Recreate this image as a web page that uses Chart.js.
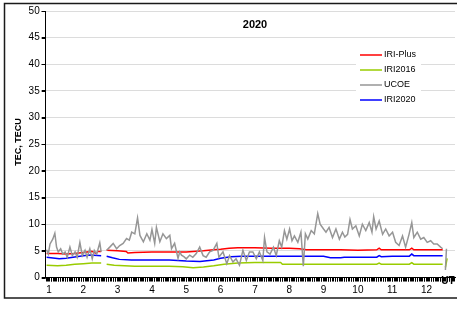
<!DOCTYPE html>
<html lang="en">
<head>
    <meta charset="UTF-8">
    <title>TEC 2020</title>
    <script src="https://cdn.jsdelivr.net/npm/chart.js"></script>
    <style>
        body {
            margin: 0;
            background: #ffffff;
        }
    </style>
</head>
<body>
    <canvas id="tecChart" width="457" height="309"></canvas>

    <script>
        // Axis labels
        const monthLabels = ['1', '2', '3', '4', '5', '6', '7', '8', '9', '10', '11', '12'];
        const tecTicks = [0, 5, 10, 15, 20, 25, 30, 35, 40, 45, 50];

        // IRI-Plus (red)
        const plusMonth = [0.93, 1.25, 1.5, 1.75, 2.0, 2.25, 2.38, 2.42, 2.52, 2.6,
            2.68, 3.0, 3.25, 3.3, 3.5, 4.0, 4.5, 5.0, 5.5, 5.8,
            6.0, 6.25, 6.5, 7.0, 7.5, 8.0, 8.3, 8.5, 9.0, 9.5,
            10.0, 10.55, 10.62, 10.68, 11.0, 11.5, 11.57, 11.63, 12.0, 12.47];
        const plusTec = [4.5, 4.5, 4.4, 4.5, 4.7, 4.9, 4.5, 4.9, 4.9, null,
            5.1, 5.0, 4.9, 4.6, 4.7, 4.8, 4.8, 4.8, 5.0, 5.2,
            5.3, 5.5, 5.6, 5.6, 5.5, 5.5, 5.4, 5.2, 5.2, 5.2,
            5.1, 5.2, 5.5, 5.2, 5.2, 5.2, 5.5, 5.2, 5.2, 5.2];

        // IRI2016 (green)
        const iri16Month = [0.93, 1.25, 1.5, 1.75, 2.0, 2.25, 2.52, 2.6,
            2.68, 2.9, 3.2, 3.5, 4.0, 4.5, 4.9, 5.2, 5.5, 5.8,
            6.1, 6.5, 7.0, 7.5, 7.75, 7.8, 8.5, 9.5, 10.55, 10.62,
            10.68, 11.5, 11.57, 11.63, 12.0, 12.47, 12.51, 12.55, 12.6];
        const iri16Tec = [2.3, 2.2, 2.3, 2.5, 2.6, 2.7, 2.7, null,
            2.5, 2.3, 2.2, 2.1, 2.1, 2.1, 2.0, 1.85, 1.95, 2.2,
            2.5, 2.7, 2.8, 2.8, 2.8, 2.5, 2.5, 2.5, 2.5, 2.7,
            2.5, 2.5, 2.8, 2.5, 2.5, 2.5, null, 1.9, 3.6];

        // UCOE (gray, measured)
        const ucoeMonth = [0.93, 0.98, 1.03, 1.11, 1.17, 1.22, 1.27, 1.34, 1.40, 1.47,
            1.53, 1.61, 1.68, 1.76, 1.82, 1.90, 1.97, 2.05, 2.11, 2.19,
            2.26, 2.32, 2.39, 2.48, 2.52, 2.6,
            2.68, 2.77, 2.87, 2.97, 3.06, 3.16, 3.26, 3.34, 3.41, 3.50,
            3.58, 3.65, 3.75, 3.85, 3.94, 4.00, 4.08, 4.13, 4.23, 4.32,
            4.42, 4.52, 4.57, 4.66, 4.76, 4.81, 4.86, 4.93, 5.00, 5.10,
            5.19, 5.29, 5.39, 5.49, 5.58, 5.68, 5.78, 5.89, 5.95, 6.07,
            6.18, 6.26, 6.36, 6.45, 6.55, 6.65, 6.75, 6.84, 6.94, 7.04,
            7.13, 7.23, 7.28, 7.35, 7.44, 7.54, 7.62, 7.71, 7.78, 7.86,
            7.93, 8.01, 8.08, 8.15, 8.25, 8.34, 8.41, 8.47, 8.54, 8.64,
            8.73, 8.83, 8.90, 9.00, 9.07, 9.16, 9.26, 9.36, 9.46, 9.55,
            9.62, 9.70, 9.77, 9.84, 9.94, 10.04, 10.13, 10.23, 10.33, 10.41,
            10.46, 10.53, 10.62, 10.72, 10.81, 10.91, 11.01, 11.10, 11.20, 11.30,
            11.39, 11.49, 11.57, 11.63, 11.73, 11.83, 11.92, 12.02, 12.12, 12.21,
            12.31, 12.41, 12.47, 12.51, 12.55, 12.58];
        const ucoeTec = [5.2, 4.4, 6.3, 7.2, 8.3, 5.7, 4.8, 5.4, 4.4, 4.8,
            3.8, 5.7, 4.1, 4.8, 3.8, 6.6, 4.1, 5.1, 3.8, 5.4,
            3.5, 5.1, 4.4, 6.5, 4.8, null,
            5.1, 5.7, 6.4, 5.4, 6.0, 6.4, 7.3, 7.0, 8.5, 8.2,
            11.2, 7.9, 6.7, 8.2, 7.0, 9.0, 6.4, 9.4, 6.7, 8.2,
            7.3, 7.9, 5.4, 6.4, 3.6, 4.8, 4.2, 3.9, 3.5, 4.2,
            3.8, 4.5, 5.7, 4.1, 3.8, 4.8, 5.1, 6.4, 3.8, 4.8,
            2.6, 4.1, 2.9, 3.5, 2.3, 5.1, 3.2, 4.8, 4.8, 3.5,
            4.8, 3.2, 7.5, 4.8, 4.4, 5.7, 4.1, 6.9, 5.7, 8.8,
            7.2, 9.1, 6.9, 7.8, 6.6, 8.5, 2.1, 8.2, 7.2, 8.8,
            8.2, 12.0, 10.0, 9.1, 8.5, 9.4, 7.5, 9.1, 7.2, 8.5,
            7.6, 8.1, 10.9, 9.1, 9.7, 7.8, 10.0, 8.8, 10.3, 8.5,
            11.4, 9.1, 10.6, 8.1, 9.1, 7.8, 8.5, 6.6, 6.0, 7.8,
            5.7, 8.1, 10.3, 7.5, 8.5, 7.2, 7.5, 6.6, 6.9, 6.3,
            6.3, 5.7, 5.4, null, 1.4, 5.4];

        // IRI2020 (blue)
        const iri20Month = [0.93, 1.3, 1.5, 1.7, 2.0, 2.2, 2.52, 2.6,
            2.68, 2.85, 3.05, 3.4, 4.0, 4.5, 5.0, 5.4, 5.8, 6.0,
            6.3, 6.6, 7.0, 8.0, 9.0, 9.2, 9.5, 9.6, 10.0, 10.55,
            10.62, 10.68, 11.0, 11.5, 11.57, 11.63, 12.0, 12.47];
        const iri20Tec = [3.8, 3.5, 3.6, 3.8, 4.1, 4.2, 4.1, null,
            4.0, 3.7, 3.4, 3.3, 3.3, 3.3, 3.1, 3.0, 3.3, 3.6,
            3.9, 4.0, 4.0, 4.0, 4.0, 3.7, 3.7, 3.8, 3.8, 3.8,
            4.1, 3.9, 4.0, 4.0, 4.4, 4.1, 4.1, 4.1];

        const toPoints = (xs, ys) => xs.map((x, i) => ({ x: x, y: ys[i] }));

        Chart.defaults.font.family = '"Liberation Sans", Arial, sans-serif';
        Chart.defaults.font.size = 10;
        Chart.defaults.color = '#000';

        // white page, outer frame, tick marks, title, axis names and the legend box
        const decorations = {
            id: 'decorations',
            beforeDraw(chart) {
                const c = chart.ctx;
                c.save();
                c.fillStyle = '#fff';
                c.fillRect(0, 0, chart.width, chart.height);
                c.restore();
            },
            afterDatasetsDraw(chart) {
                const c = chart.ctx;
                c.save();
                c.fillStyle = '#fff';
                c.fillRect(356, 47, 65, 60);
                c.font = '9px "Liberation Sans", Arial, sans-serif';
                c.textBaseline = 'middle';
                chart.data.datasets.forEach((ds, i) => {
                    const y = 55 + i * 15;
                    c.strokeStyle = ds.borderColor;
                    c.lineWidth = ds.borderWidth;
                    c.beginPath();
                    c.moveTo(360, y);
                    c.lineTo(382, y);
                    c.stroke();
                    c.fillStyle = '#000';
                    c.fillText(ds.label, 384, y);
                });
                c.restore();
            },
            afterDraw(chart) {
                const c = chart.ctx;
                const xs = chart.scales.x;
                const ys = chart.scales.y;
                c.save();

                // tick marks from the scales' own ticks
                c.strokeStyle = '#000';
                c.lineWidth = 1;
                c.beginPath();
                xs.ticks.forEach((t, i) => {
                    const px = Math.round(xs.getPixelForTick(i)) + 0.5;
                    c.moveTo(px, xs.top);
                    c.lineTo(px, xs.top + 4);
                });
                ys.ticks.forEach((t, i) => {
                    const py = Math.round(ys.getPixelForTick(i)) + 0.5;
                    c.moveTo(ys.right - 4, py);
                    c.lineTo(ys.right, py);
                });
                c.stroke();

                c.strokeStyle = '#1a1a1a';
                c.lineWidth = 1.5;
                c.strokeRect(4.5, 3.5, 470, 294.5);

                c.fillStyle = '#000';
                c.textAlign = 'center';
                c.textBaseline = 'middle';
                c.font = 'bold 11px "Liberation Sans", Arial, sans-serif';
                c.fillText('2020', 255, 25);

                c.font = 'bold 10px "Liberation Sans", Arial, sans-serif';
                c.fillText('UT', 448, 281);

                c.translate(19, 142);
                c.rotate(-Math.PI / 2);
                c.font = 'bold 9px "Liberation Sans", Arial, sans-serif';
                c.fillText('TEC, TECU', 0, 0);
                c.restore();
            }
        };

        const tecChart = new Chart(document.getElementById('tecChart'), {
            type: 'line',
            data: {
                datasets: [
                    { label: 'IRI-Plus', data: toPoints(plusMonth, plusTec), borderColor: '#ff0000', borderWidth: 1.5, order: 1 },
                    { label: 'IRI2016', data: toPoints(iri16Month, iri16Tec), borderColor: '#99cc00', borderWidth: 1.5, order: 1 },
                    { label: 'UCOE', data: toPoints(ucoeMonth, ucoeTec), borderColor: '#969696', borderWidth: 1.5, order: 0 },
                    { label: 'IRI2020', data: toPoints(iri20Month, iri20Tec), borderColor: '#0000ff', borderWidth: 1.5, order: 1 }
                ]
            },
            options: {
                responsive: false,
                animation: false,
                spanGaps: false,
                layout: { padding: { top: 11, right: 1, left: 0, bottom: 0 } },
                elements: { point: { radius: 0 }, line: { tension: 0 } },
                plugins: {
                    legend: { display: false },
                    tooltip: { enabled: false }
                },
                scales: {
                    x: {
                        type: 'linear',
                        min: 0.904,
                        max: 12.83,
                        afterBuildTicks: scale => {
                            const ticks = [];
                            for (let k = Math.ceil(scale.min * 15); k <= Math.floor(scale.max * 15); k++) {
                                ticks.push({ value: k / 15 });
                            }
                            scale.ticks = ticks;
                        },
                        afterFit: scale => { scale.height = 31.5; },
                        ticks: {
                            autoSkip: false,
                            maxRotation: 0,
                            padding: 3,
                            callback: value => {
                                const m = Math.round(value);
                                if (Math.abs(value - m) > 1e-6 || m < 1 || m > 12) return '';
                                return monthLabels[m - 1];
                            }
                        },
                        grid: { drawOnChartArea: false, color: '#000', lineWidth: 1, tickLength: 4, tickColor: '#000' },
                        border: { color: '#000', width: 1 }
                    },
                    y: {
                        min: 0,
                        max: 50,
                        afterBuildTicks: scale => { scale.ticks = tecTicks.map(v => ({ value: v })); },
                        afterFit: scale => { scale.width = 45.7; },
                        ticks: { padding: 2 },
                        grid: { color: '#dcdcdc', tickLength: 4, tickColor: '#000' },
                        border: { color: '#000', width: 1 }
                    }
                }
            },
            plugins: [decorations]
        });
    </script>
</body>
</html>
